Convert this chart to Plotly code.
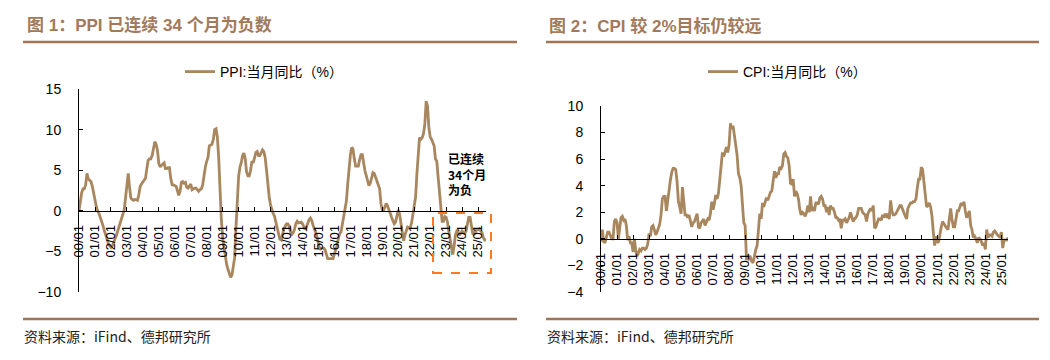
import pandas as pd
import plotly.graph_objects as go

# ---------------- data (monthly YoY, %) ----------------
ppi_start = "2000-01-01"
ppi_values = [
    0.0, 1.2, 2.2, 2.7, 2.7, 3.2, 4.6, 3.9, 3.7, 3.6, 3.0, 2.0,          # 2000
    1.0, 0.5, 0.0, -0.3, -0.8, -1.2, -1.8, -2.4, -3.0, -3.5, -4.0, -4.3, # 2001
    -4.5, -4.3, -4.0, -3.5, -3.1, -2.6, -2.1, -1.6, -1.1, -0.5, 0.1, 1.6, # 2002
    3.2, 4.6, 3.0, 1.6, 1.4, 1.3, 1.4, 1.3, 1.3, 2.0, 3.0, 3.3,          # 2003
    3.5, 3.8, 4.0, 5.2, 6.2, 6.4, 6.4, 6.8, 7.9, 8.5, 8.2, 7.4,          # 2004
    5.8, 5.4, 5.6, 5.8, 5.9, 5.2, 5.2, 5.3, 5.3, 4.0, 3.2, 3.2,          # 2005
    3.1, 3.0, 2.5, 1.9, 2.4, 3.5, 3.6, 3.4, 3.5, 2.9, 2.8, 3.1,          # 2006
    3.3, 2.6, 2.7, 2.8, 2.8, 2.5, 2.4, 2.6, 2.7, 3.2, 4.6, 5.4,          # 2007
    6.1, 6.6, 8.0, 8.1, 8.2, 8.8, 10.0, 10.1, 9.1, 6.6, 2.0, -1.1,       # 2008
    -3.3, -4.5, -6.0, -6.6, -7.2, -7.8, -8.2, -7.9, -7.0, -5.8, -2.1, 1.7,  # 2009
    4.3, 5.4, 5.9, 6.8, 7.1, 6.4, 4.8, 4.3, 4.3, 5.0, 6.1, 5.9,          # 2010
    6.6, 7.2, 7.3, 6.8, 6.8, 7.1, 7.5, 7.3, 6.5, 5.0, 2.7, 1.7,          # 2011
    0.7, 0.0, -0.3, -0.7, -1.4, -2.1, -2.9, -3.5, -3.6, -2.8, -2.2, -1.9,  # 2012
    -1.6, -1.6, -1.9, -2.6, -2.9, -2.7, -2.3, -1.6, -1.3, -1.5, -1.4, -1.4,  # 2013
    -1.6, -2.0, -2.3, -2.0, -1.4, -1.1, -0.9, -1.2, -1.8, -2.2, -2.7, -3.3,  # 2014
    -4.3, -4.8, -4.6, -4.6, -4.6, -4.8, -5.4, -5.9, -5.9, -5.9, -5.9, -5.9,  # 2015
    -5.3, -4.9, -4.3, -3.4, -2.8, -2.6, -1.7, -0.8, 0.1, 1.2, 3.3, 5.5,  # 2016
    6.9, 7.8, 7.6, 6.4, 5.5, 5.5, 5.5, 6.3, 6.9, 6.9, 5.8, 4.9,          # 2017
    4.3, 3.7, 3.1, 3.4, 4.1, 4.7, 4.6, 4.1, 3.6, 3.3, 2.7, 0.9,          # 2018
    0.1, 0.1, 0.4, 0.9, 0.6, 0.0, -0.3, -0.8, -1.2, -1.6, -1.4, -0.5,    # 2019
    0.1, -0.4, -1.5, -3.1, -3.7, -3.0, -2.4, -2.0, -2.1, -2.1, -1.5, -0.4,  # 2020
    0.3, 1.7, 4.4, 6.8, 9.0, 8.8, 9.0, 9.5, 10.7, 13.5, 12.9, 10.3,      # 2021
    9.1, 8.8, 8.3, 8.0, 6.4, 6.1, 4.2, 2.3, 0.9, -1.3, -1.3, -0.7,       # 2022
    -0.8, -1.4, -2.5, -3.6, -4.6, -5.4, -4.4, -3.0, -2.5, -2.6, -3.0, -2.7,  # 2023
    -2.5, -2.7, -2.8, -2.5, -1.4, -0.8, -0.8, -1.8, -2.8, -2.9, -2.5, -2.3,  # 2024
    -2.3, -2.2, -2.5, -2.7, -3.3, -3.6, -3.6,                            # 2025
]

cpi_start = "2000-01-01"
cpi_values = [
    -0.2, 0.7, -0.2, -0.3, 0.1, 0.5, 0.5, 0.3, 0.0, 0.0, 1.3, 1.5,       # 2000
    1.2, 0.0, 0.8, 1.6, 1.7, 1.4, 1.5, 1.0, -0.1, 0.2, -0.3, -0.3,       # 2001
    -1.0, 0.0, -0.8, -1.3, -1.1, -0.8, -0.9, -0.7, -0.7, -0.8, -0.7, -0.4,  # 2002
    0.4, 0.2, 0.9, 1.0, 0.7, 0.3, 0.5, 0.9, 1.1, 1.8, 3.0, 3.2,          # 2003
    3.2, 2.1, 3.0, 3.8, 4.4, 5.0, 5.3, 5.3, 5.2, 4.3, 2.8, 2.4,          # 2004
    1.9, 3.9, 2.7, 1.8, 1.8, 1.6, 1.8, 1.3, 0.9, 1.2, 1.3, 1.6,          # 2005
    1.9, 0.9, 0.8, 1.2, 1.4, 1.5, 1.0, 1.3, 1.5, 1.4, 1.9, 2.8,          # 2006
    2.2, 2.7, 3.3, 3.0, 3.4, 4.4, 5.6, 6.5, 6.2, 6.5, 6.9, 6.5,          # 2007
    7.1, 8.7, 8.3, 8.5, 7.7, 7.1, 6.3, 4.9, 4.6, 4.0, 2.4, 1.2,          # 2008
    1.0, -1.6, -1.2, -1.5, -1.4, -1.7, -1.8, -1.2, -0.8, -0.5, 0.6, 1.9,  # 2009
    1.5, 2.7, 2.4, 2.8, 3.1, 2.9, 3.3, 3.5, 3.6, 4.4, 5.1, 4.6,          # 2010
    4.9, 4.9, 5.4, 5.3, 5.5, 6.4, 6.5, 6.2, 6.1, 5.5, 4.2, 4.1,          # 2011
    4.5, 3.2, 3.6, 3.4, 3.0, 2.2, 1.8, 2.0, 1.9, 1.7, 2.0, 2.5,          # 2012
    2.0, 3.2, 2.1, 2.4, 2.1, 2.7, 2.7, 2.6, 3.1, 3.2, 3.0, 2.5,          # 2013
    2.5, 2.0, 2.4, 1.8, 2.5, 2.3, 2.3, 2.0, 1.6, 1.6, 1.4, 1.5,          # 2014
    0.8, 1.4, 1.4, 1.5, 1.2, 1.4, 1.6, 2.0, 1.6, 1.3, 1.5, 1.6,          # 2015
    1.8, 2.3, 2.3, 2.3, 2.0, 1.9, 1.8, 1.3, 1.9, 2.1, 2.3, 2.1,          # 2016
    2.5, 0.8, 0.9, 1.2, 1.5, 1.5, 1.4, 1.8, 1.6, 1.9, 1.7, 1.8,          # 2017
    1.5, 2.9, 2.1, 1.8, 1.8, 1.9, 2.1, 2.3, 2.5, 2.5, 2.2, 1.9,          # 2018
    1.7, 1.5, 2.3, 2.5, 2.7, 2.7, 2.8, 2.8, 3.0, 3.8, 4.5, 4.5,          # 2019
    5.4, 5.2, 4.3, 3.3, 2.4, 2.5, 2.7, 2.4, 1.7, 0.5, -0.5, 0.2,         # 2020
    -0.3, -0.2, 0.4, 0.9, 1.3, 1.1, 1.0, 0.8, 0.7, 1.5, 2.3, 1.5,        # 2021
    0.9, 0.9, 1.5, 2.1, 2.1, 2.5, 2.7, 2.5, 2.8, 2.1, 1.6, 1.8,          # 2022
    2.1, 1.0, 0.7, 0.1, 0.2, 0.0, -0.3, 0.1, 0.0, -0.2, -0.5, -0.3,      # 2023
    -0.8, 0.7, 0.1, 0.3, 0.3, 0.2, 0.5, 0.6, 0.4, 0.3, 0.2, 0.1,         # 2024
    0.5, -0.7, -0.1, -0.1, -0.1, 0.1,                                    # 2025
]

ppi_name = "PPI:当月同比（%）"
cpi_name = "CPI:当月同比（%）"
title_left = "图 1：PPI 已连续 34 个月为负数"
title_right = "图 2：CPI 较 2%目标仍较远"
note_text = "已连续<br>34个月<br>为负"
source_text = "资料来源：iFind、德邦研究所"

ppi_dates = pd.date_range(ppi_start, periods=len(ppi_values), freq="MS")
cpi_dates = pd.date_range(cpi_start, periods=len(cpi_values), freq="MS")

# ---------------- styling / layout helpers ----------------
# the page body keeps the browser's default 8px margin, so the figure is
# drawn 8px in from the top-left corner of the window
OFF = 8
W, H = 1034, 344
LINE_COLOR = "#A8865E"
BROWN = "#A27A5B"
ORANGE = "#FF7A1F"
LATIN = "Liberation Sans, Arial, Noto Sans CJK SC, sans-serif"
CJK = "Noto Sans CJK SC, Liberation Sans, sans-serif"


def px_x(x):
    return (x - OFF) / W


def px_y(y):
    return 1 - (y - OFF) / H


# plot areas (window pixels)
L_X0, L_X1, L_YT, L_YB = 79, 486, 89, 292
R_X0, R_X1, R_YT, R_YB = 601, 1008, 106, 292
L_RANGE = [-10, 15]
R_RANGE = [-4, 10]

ly_dom = [px_y(L_YB), px_y(L_YT)]
ry_dom = [px_y(R_YB), px_y(R_YT)]
l_zero = ly_dom[0] + (0 - L_RANGE[0]) / (L_RANGE[1] - L_RANGE[0]) * (ly_dom[1] - ly_dom[0])
r_zero = ry_dom[0] + (0 - R_RANGE[0]) / (R_RANGE[1] - R_RANGE[0]) * (ry_dom[1] - ry_dom[0])

fig = go.Figure()
fig.add_trace(go.Scatter(
    x=ppi_dates, y=ppi_values, mode="lines", name=ppi_name,
    line=dict(color=LINE_COLOR, width=2.8), xaxis="x", yaxis="y", legend="legend",
))
fig.add_trace(go.Scatter(
    x=cpi_dates, y=cpi_values, mode="lines", name=cpi_name,
    line=dict(color=LINE_COLOR, width=2.8), xaxis="x2", yaxis="y2", legend="legend2",
))

xcommon = dict(
    type="date", tickformat="%y/%m", dtick="M12", tick0="2000-01-01",
    tickangle=-90, showline=True, linecolor="black", linewidth=1,
    ticks="inside", ticklen=4, tickcolor="black", tickwidth=1,
    showgrid=False, zeroline=False, anchor="free", automargin=False,
    tickfont=dict(family=LATIN, size=13, color="black"),
    ticklabelstandoff=8, fixedrange=True,
)
ycommon = dict(
    showline=True, linecolor="black", linewidth=1,
    ticks="inside", ticklen=4, tickcolor="black", tickwidth=1,
    showgrid=False, zeroline=False, automargin=False,
    tickfont=dict(family=LATIN, size=14, color="black"),
    ticklabelstandoff=14, fixedrange=True,
)

fig.update_layout(
    template="none",
    width=W, height=H, autosize=False,
    margin=dict(l=0, r=0, t=0, b=0, pad=0, autoexpand=False),
    paper_bgcolor="white", plot_bgcolor="white",
    xaxis=dict(xcommon, domain=[px_x(L_X0), px_x(L_X1)],
               range=[ppi_dates[0], ppi_dates[-1]], position=l_zero),
    yaxis=dict(ycommon, domain=ly_dom, range=L_RANGE, dtick=5, anchor="x"),
    xaxis2=dict(xcommon, domain=[px_x(R_X0), px_x(R_X1)],
                range=[cpi_dates[0], cpi_dates[-1]], position=r_zero),
    yaxis2=dict(ycommon, domain=ry_dom, range=R_RANGE, dtick=2, anchor="x2"),
    legend=dict(x=px_x(180), y=px_y(72), xanchor="left", yanchor="middle",
                orientation="h", bgcolor="rgba(0,0,0,0)",
                font=dict(family=LATIN, size=14, color="black")),
    legend2=dict(x=px_x(703), y=px_y(72), xanchor="left", yanchor="middle",
                 orientation="h", bgcolor="rgba(0,0,0,0)",
                 font=dict(family=LATIN, size=14, color="black")),
    showlegend=True,
)

shapes = []
for (x0, x1) in [(23, 517), (546, 1039)]:
    for y in (42, 319):
        shapes.append(dict(type="line", xref="paper", yref="paper",
                           x0=px_x(x0), x1=px_x(x1), y0=px_y(y), y1=px_y(y),
                           line=dict(color="#9E7556", width=2.5)))
# dashed highlight box around the latest negative stretch
shapes.append(dict(type="rect", xref="paper", yref="paper",
                   x0=px_x(433), x1=px_x(491), y0=px_y(273), y1=px_y(213),
                   line=dict(color=ORANGE, width=2, dash="dash"),
                   fillcolor="rgba(0,0,0,0)"))
fig.update_layout(shapes=shapes)

annotations = [
    dict(text="<b>" + title_left + "</b>", x=px_x(25), y=px_y(26),
         xref="paper", yref="paper", xanchor="left", yanchor="middle",
         showarrow=False, font=dict(family=LATIN, size=17, color=BROWN)),
    dict(text="<b>" + title_right + "</b>", x=px_x(547), y=px_y(26),
         xref="paper", yref="paper", xanchor="left", yanchor="middle",
         showarrow=False, font=dict(family=LATIN, size=17, color=BROWN)),
    dict(text="<b>" + note_text + "</b>", x=px_x(446), y=px_y(174),
         xref="paper", yref="paper", xanchor="left", yanchor="middle",
         align="left", showarrow=False,
         font=dict(family=CJK, size=12, color="black")),
    dict(text=source_text, x=px_x(22), y=px_y(336),
         xref="paper", yref="paper", xanchor="left", yanchor="middle",
         showarrow=False, font=dict(family=CJK, size=14, color="#222222")),
    dict(text=source_text, x=px_x(545), y=px_y(336),
         xref="paper", yref="paper", xanchor="left", yanchor="middle",
         showarrow=False, font=dict(family=CJK, size=14, color="#222222")),
]
fig.update_layout(annotations=annotations)

fig.write_html("out.html")
